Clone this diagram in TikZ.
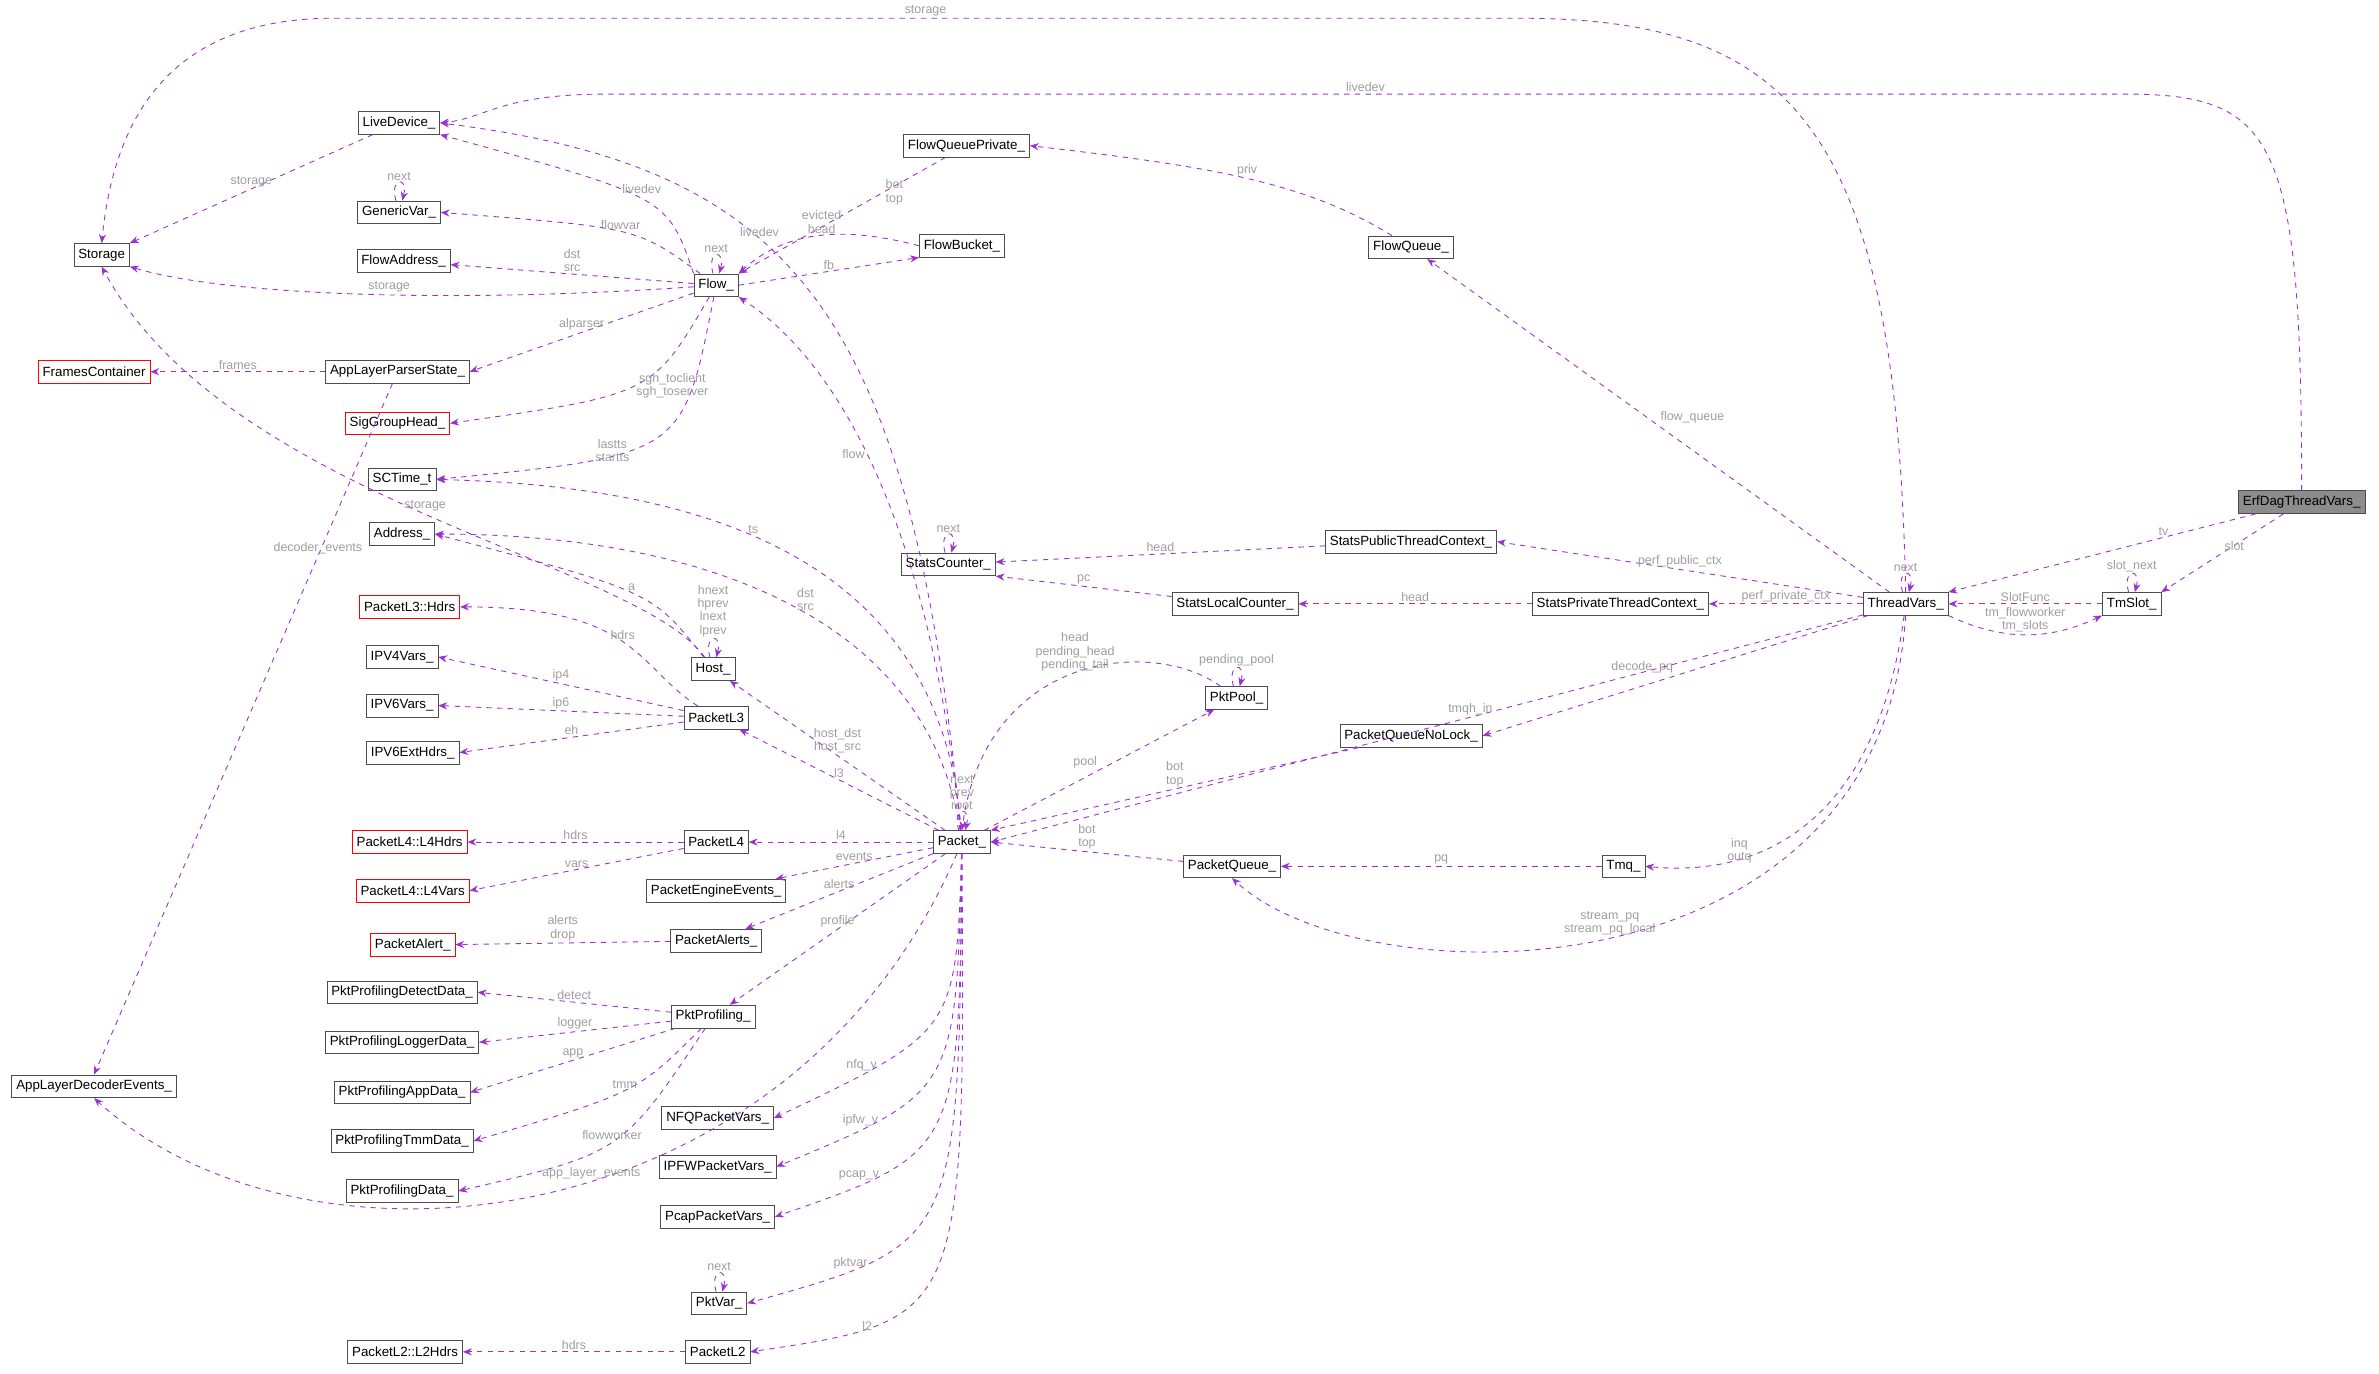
\documentclass[tikz,border=0pt]{standalone}
\usepackage{fontspec}
\setmainfont{Liberation Sans}
\usetikzlibrary{arrows.meta}
\definecolor{edgecol}{HTML}{9A32CD}
\definecolor{lblcol}{HTML}{9E9E9E}
\tikzset{
    cls/.style={draw=black!70, fill=white, font=\fontsize{7.5}{8.5}\selectfont, inner sep=2.5pt, minimum height=0.45cm},
    redcls/.style={cls, draw=red},
    topcls/.style={cls, fill=black!45},
    edge/.style={draw=edgecol, dashed, line width=0.5pt, -{Stealth[length=5pt,width=4pt]}},
    lbl/.style={text=lblcol, font=\fontsize{7}{7.5}\selectfont, inner sep=1pt, align=center}
}
\begin{document}
\begin{tikzpicture}[x=0.03cm, y=-0.03cm]
        \useasboundingbox (0,0) rectangle (1568,905);
        % classes
        \node[topcls] (erf) at (1517,331) {ErfDagThreadVars\_};
        \node[cls] (tv) at (1256,398) {ThreadVars\_};
        \node[cls] (tms) at (1405,398) {TmSlot\_};
        \node[cls] (stor) at (67,168) {Storage};
        \node[cls] (live) at (263,81) {LiveDevice\_};
        \node[cls] (gvar) at (263,140) {GenericVar\_};
        \node[cls] (faddr) at (266,172) {FlowAddress\_};
        \node[cls] (flow) at (472,188) {Flow\_};
        \node[cls] (fqp) at (637,96) {FlowQueuePrivate\_};
        \node[cls] (fbkt) at (634,162) {FlowBucket\_};
        \node[cls] (fq) at (930,163) {FlowQueue\_};
        \node[cls] (alps) at (262,245) {AppLayerParserState\_};
        \node[redcls] (frames) at (62,245) {FramesContainer};
        \node[redcls] (sgh) at (262,279) {SigGroupHead\_};
        \node[cls] (sct) at (265,316) {SCTime\_t};
        \node[cls] (addr) at (265,352) {Address\_};
        \node[redcls] (l3hdrs) at (270,400) {PacketL3::Hdrs};
        \node[cls] (ip4) at (265,433) {IPV4Vars\_};
        \node[cls] (ip6) at (265,465) {IPV6Vars\_};
        \node[cls] (eh) at (272,496) {IPV6ExtHdrs\_};
        \node[cls] (host) at (470,441) {Host\_};
        \node[cls] (pl3) at (472,473) {PacketL3};
        \node[redcls] (l4hdrs) at (270,555) {PacketL4::L4Hdrs};
        \node[cls] (pl4) at (472,555) {PacketL4};
        \node[redcls] (l4vars) at (272,587) {PacketL4::L4Vars};
        \node[cls] (pee) at (472,587) {PacketEngineEvents\_};
        \node[cls] (palerts) at (472,620) {PacketAlerts\_};
        \node[redcls] (palert) at (272,623) {PacketAlert\_};
        \node[cls] (prof) at (470,670) {PktProfiling\_};
        \node[cls] (pdet) at (265,654) {PktProfilingDetectData\_};
        \node[cls] (plog) at (265,687) {PktProfilingLoggerData\_};
        \node[cls] (papp) at (265,720) {PktProfilingAppData\_};
        \node[cls] (ptmm) at (265,752) {PktProfilingTmmData\_};
        \node[cls] (pdata) at (265,785) {PktProfilingData\_};
        \node[cls] (alde) at (62,716) {AppLayerDecoderEvents\_};
        \node[cls] (nfq) at (473,737) {NFQPacketVars\_};
        \node[cls] (ipfw) at (473,769) {IPFWPacketVars\_};
        \node[cls] (pcap) at (473,802) {PcapPacketVars\_};
        \node[cls] (pvar) at (474,859) {PktVar\_};
        \node[cls] (pl2) at (473,891) {PacketL2};
        \node[cls] (l2hdrs) at (267,891) {PacketL2::L2Hdrs};
        \node[cls] (pkt) at (634,555) {Packet\_};
        \node[cls] (pool) at (815,460) {PktPool\_};
        \node[cls] (pqnl) at (930,485) {PacketQueueNoLock\_};
        \node[cls] (pq) at (812,571) {PacketQueue\_};
        \node[cls] (tmq) at (1070,571) {Tmq\_};
        \node[cls] (sc) at (625,372) {StatsCounter\_};
        \node[cls] (slc) at (814,398) {StatsLocalCounter\_};
        \node[cls] (spub) at (930,357) {StatsPublicThreadContext\_};
        \node[cls] (spriv) at (1068,398) {StatsPrivateThreadContext\_};

        % thread side
        \draw[edge] (erf) -- node[lbl,above,pos=0.3] {tv} (tv.north east);
        \draw[edge] (erf) -- node[lbl,above right] {slot} (tms.north east);
        \draw[edge] (erf.north) .. controls (1517,90) and (1500,62) .. (1400,62) -- node[lbl,above] {livedev} (400,62) .. controls (330,62) and (320,78) .. (live.east);
        \draw[edge] (tv.north) .. controls (1250,80) and (1180,12) .. (1000,12) -- node[lbl,above] {storage} (220,12) .. controls (110,12) and (75,80) .. (stor.north);
        \draw[edge] (tv) to[loop above] node[lbl,above] {next} ();
        \draw[edge] (tms.west) -- node[lbl,above] {SlotFunc} (tv.east);
        \draw[edge] (tv.south east) to[bend right=25] node[lbl,above] {tm\_flowworker\\tm\_slots} (tms.south west);
        \draw[edge] (tms) to[loop above] node[lbl,above] {slot\_next} ();
        \draw[edge] (tv) -- node[lbl,above right] {flow\_queue} (fq);
        \draw[edge] (tv) -- node[lbl,above] {perf\_public\_ctx} (spub.east);
        \draw[edge] (tv) -- node[lbl,above] {perf\_private\_ctx} (spriv);
        \draw[edge] (tv) -- node[lbl,above left] {decode\_pq} (pqnl.east);
        \draw[edge] (tv) -- node[lbl,above,pos=0.45] {tmqh\_in} (pkt.east);
        \draw[edge] (tv) .. controls (1240,520) and (1180,580) .. node[lbl,pos=0.7,left=4pt] {inq\\outq} (tmq.east);
        \draw[edge] (tv.south) .. controls (1240,660) and (900,660) .. node[lbl,above,pos=0.5] {stream\_pq\\stream\_pq\_local} (pq.south);
        \draw[edge] (spub) -- node[lbl,above] {head} (sc);
        \draw[edge] (spriv) -- node[lbl,above] {head} (slc);
        \draw[edge] (slc) -- node[lbl,above] {pc} (sc.south east);
        \draw[edge] (sc) to[loop above] node[lbl,above] {next} ();

        % flow side
        \draw[edge] (fq) .. controls (860,120) and (800,110) .. node[lbl,above] {priv} (fqp.east);
        \draw[edge] (fqp) -- node[lbl,right,pos=0.3] {bot\\top} (flow.north east);
        \draw[edge] (fbkt.west) .. controls (560,150) and (520,150) .. node[lbl,above] {evicted\\head} (flow.north east);
        \draw[edge] (flow.east) -- node[lbl,above] {fb} (fbkt.south west);
        \draw[edge] (flow) to[loop above] node[lbl,above] {next} ();
        \draw[edge] (flow.north west) .. controls (440,130) .. node[lbl,pos=0.6,right] {livedev} (live.south east);
        \draw[edge] (flow) .. controls (420,150) .. node[lbl,above] {flowvar} (gvar.east);
        \draw[edge] (gvar) to[loop above] node[lbl,above] {next} ();
        \draw[edge] (flow) -- node[lbl,above] {dst\\src} (faddr);
        \draw[edge] (flow) .. controls (300,200) and (150,195) .. node[lbl,above,pos=0.45] {storage} (stor.south east);
        \draw[edge] (live) -- node[lbl,above] {storage} (stor.north east);
        \draw[edge] (flow) -- node[lbl,above] {alparser} (alps.east);
        \draw[edge] (flow) .. controls (430,260) .. node[lbl,right,pos=0.5] {sgh\_toclient\\sgh\_toserver} (sgh.east);
        \draw[edge] (flow) .. controls (450,300) .. node[lbl,left,pos=0.6] {lastts\\startts} (sct.east);
        \draw[edge] (alps) -- node[lbl,above] {frames} (frames);
        \draw[edge] (alps) -- node[lbl,above,pos=0.25] {decoder\_events} (alde.north);

        % host
        \draw[edge] (host) .. controls (420,370) and (150,330) .. node[lbl,above,pos=0.5] {storage} (stor.south);
        \draw[edge] (host) .. controls (430,390) .. node[lbl,above] {a} (addr.east);
        \draw[edge] (host) to[loop above] node[lbl,above] {hnext\\hprev\\lnext\\lprev} ();

        % packet
        \draw[edge] (pkt) .. controls (600,200) and (520,110) .. node[lbl,above,pos=0.6] {livedev} (live.east);
        \draw[edge] (pkt) .. controls (610,320) and (540,230) .. node[lbl,left,pos=0.5] {flow} (flow.south east);
        \draw[edge] (pkt) .. controls (620,360) and (450,320) .. node[lbl,above,pos=0.55] {ts} (sct.east);
        \draw[edge] (pkt) .. controls (610,400) and (450,352) .. node[lbl,above,pos=0.45] {dst\\src} (addr.east);
        \draw[edge] (pkt) -- node[lbl,above] {host\_dst\\host\_src} (host);
        \draw[edge] (pkt) -- node[lbl,above] {l3} (pl3);
        \draw[edge] (pkt) -- node[lbl,above] {l4} (pl4);
        \draw[edge] (pkt) -- node[lbl,above] {events} (pee);
        \draw[edge] (pkt) -- node[lbl,above] {alerts} (palerts);
        \draw[edge] (pkt) -- node[lbl,above] {profile} (prof);
        \draw[edge] (pkt) .. controls (520,820) and (200,850) .. node[lbl,above,pos=0.45] {app\_layer\_events} (alde.south);
        \draw[edge] (pkt) .. controls (630,680) .. node[lbl,left,pos=0.75] {nfq\_v} (nfq.east);
        \draw[edge] (pkt) .. controls (630,720) .. node[lbl,left,pos=0.75] {ipfw\_v} (ipfw.east);
        \draw[edge] (pkt) .. controls (632,760) .. node[lbl,left,pos=0.75] {pcap\_v} (pcap.east);
        \draw[edge] (pkt) .. controls (632,820) .. node[lbl,left,pos=0.75] {pktvar} (pvar.east);
        \draw[edge] (pkt) .. controls (636,870) .. node[lbl,left,pos=0.75] {l2} (pl2.east);
        \draw[edge] (pkt) to[loop above] node[lbl,above] {next\\prev\\root} ();
        \draw[edge] (pkt) -- node[lbl,above left] {pool} (pool);
        \draw[edge] (pool) .. controls (760,420) and (650,430) .. node[lbl,above,pos=0.5] {head\\pending\_head\\pending\_tail} (pkt.north);
        \draw[edge] (pool) to[loop above] node[lbl,above] {pending\_pool} ();
        \draw[edge] (pqnl) -- node[lbl,above] {bot\\top} (pkt.north east);
        \draw[edge] (pq) -- node[lbl,above] {bot\\top} (pkt.east);
        \draw[edge] (tmq) -- node[lbl,above] {pq} (pq);

        % packet parts
        \draw[edge] (pl3) .. controls (420,440) and (420,400) .. node[lbl,above] {hdrs} (l3hdrs.east);
        \draw[edge] (pl3) -- node[lbl,above] {ip4} (ip4.east);
        \draw[edge] (pl3) -- node[lbl,above] {ip6} (ip6.east);
        \draw[edge] (pl3) -- node[lbl,above] {eh} (eh.east);
        \draw[edge] (pl4) -- node[lbl,above] {hdrs} (l4hdrs);
        \draw[edge] (pl4) -- node[lbl,above] {vars} (l4vars.east);
        \draw[edge] (palerts) -- node[lbl,above] {alerts\\drop} (palert);
        \draw[edge] (prof) -- node[lbl,above] {detect} (pdet.east);
        \draw[edge] (prof) -- node[lbl,above] {logger} (plog.east);
        \draw[edge] (prof) -- node[lbl,above] {app} (papp.east);
        \draw[edge] (prof) .. controls (420,720) .. node[lbl,above] {tmm} (ptmm.east);
        \draw[edge] (prof) .. controls (410,760) .. node[lbl,above] {flowworker} (pdata.east);
        \draw[edge] (pvar) to[loop above] node[lbl,above] {next} ();
        \draw[edge] (pl2) -- node[lbl,above] {hdrs} (l2hdrs);
    \end{tikzpicture}
\end{document}
